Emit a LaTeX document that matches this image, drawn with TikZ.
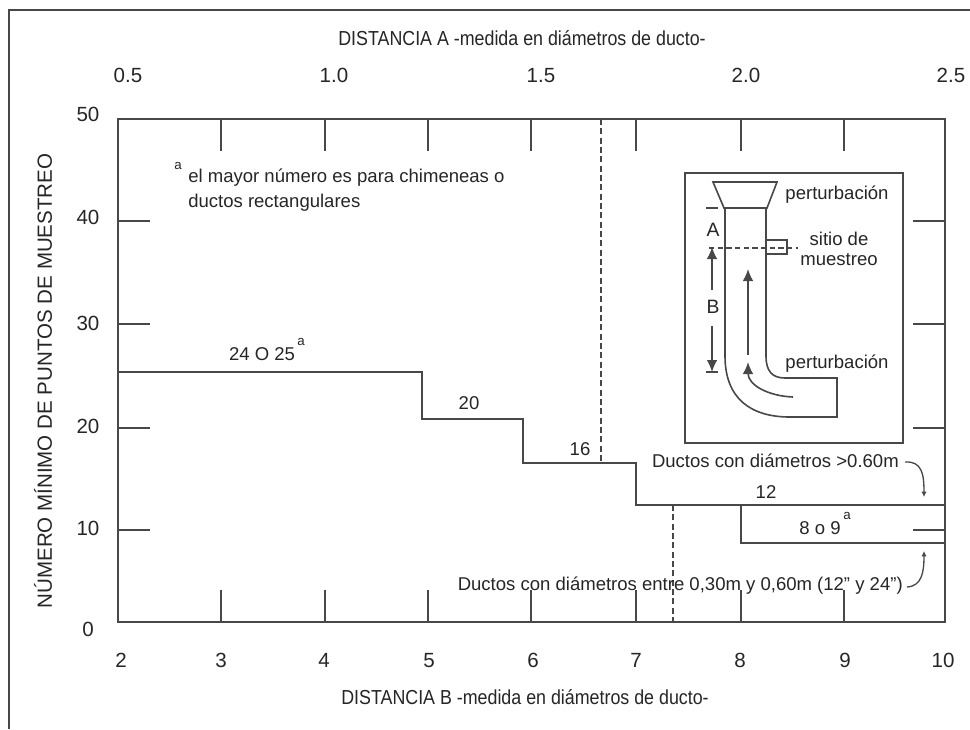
\documentclass[tikz,border=0pt]{standalone}
\usepackage{fontspec}
\setmainfont{Liberation Sans}
\usetikzlibrary{arrows.meta}
\definecolor{ln}{RGB}{72,72,72}
\definecolor{tx}{RGB}{38,38,38}
\begin{document}
\begin{tikzpicture}[x=0.75pt,y=-0.75pt,
  axisln/.style={draw=ln,line width=1.3pt},
  tickln/.style={draw=ln,line width=1.3pt},
  stepln/.style={draw=ln,line width=1.3pt},
  dashln/.style={draw=ln,line width=1.2pt,dash pattern=on 4.5pt off 2.5pt},
  ductln/.style={draw=ln,line width=1.2pt},
  lbl/.style={text=tx,font=\fontsize{13.9}{16}\selectfont,inner sep=0pt},
  numlbl/.style={lbl,text height=0.72em,text depth=0pt},
  ticklbl/.style={text=tx,font=\fontsize{15.4}{18}\selectfont,inner sep=0pt,text height=0.72em,text depth=0pt},
  ylbl/.style={text=tx,font=\fontsize{15.4}{18}\selectfont,inner sep=0pt},
  titlelbl/.style={text=tx,font=\fontsize{15.2}{18}\selectfont,inner sep=0pt},
  suplbl/.style={text=tx,font=\fontsize{10}{12}\selectfont,inner sep=0pt},
  bigarrow/.style={draw=ln,line width=1.2pt,-{Latex[length=9pt,width=8pt]}},
  smallarrow/.style={draw=ln,line width=1pt,-{Latex[length=4pt,width=4pt]}}]
\useasboundingbox (0,0) rectangle (970,729);
\fill[white] (0,0) rectangle (970,729);
% outer frame
\draw[ln,line width=0.9pt] (9,729) -- (9,10) -- (970,10);
% plot box
\draw[axisln] (118,119) rectangle (945,622);
\foreach \xx in {221,325,428,531,636,741,844}{
  \draw[tickln] (\xx,622) -- (\xx,590);
  \draw[tickln] (\xx,119) -- (\xx,151);
}
\foreach \yy in {221,324,428,530}{
  \draw[tickln] (118,\yy) -- (150,\yy);
  \draw[tickln] (945,\yy) -- (913,\yy);
}
% titles
\node[titlelbl] (ttop) at (522,38) {\scalebox{0.88}[1]{DISTANCIA A -medida en diámetros de ducto-}};
\node[titlelbl] (tbot) at (525,697) {\scalebox{0.88}[1]{DISTANCIA B -medida en diámetros de ducto-}};
\node[ylbl,rotate=90] (tleft) at (43,381) {NÚMERO MÍNIMO DE PUNTOS DE MUESTREO};
% top labels
\node[ticklbl] (a05) at (128,78) {0.5};
\node[ticklbl] (a10) at (334,78) {1.0};
\node[ticklbl] (a15) at (541,78) {1.5};
\node[ticklbl] (a20) at (746,78) {2.0};
\node[ticklbl] (a25) at (951,78) {2.5};
% bottom labels
\node[ticklbl] (b2) at (121,663) {2};
\node[ticklbl] (b3) at (221,663) {3};
\node[ticklbl] (b4) at (324,663) {4};
\node[ticklbl] (b5) at (429,663) {5};
\node[ticklbl] (b6) at (533,663) {6};
\node[ticklbl] (b7) at (636,663) {7};
\node[ticklbl] (b8) at (740,663) {8};
\node[ticklbl] (b9) at (845,663) {9};
\node[ticklbl] (b10) at (943,663) {10};
% left labels
\node[ticklbl] (y50) at (88,117) {50};
\node[ticklbl] (y40) at (88,220) {40};
\node[ticklbl] (y30) at (88,326) {30};
\node[ticklbl] (y20) at (88,429) {20};
\node[ticklbl] (y10) at (88,531) {10};
\node[ticklbl] (y0) at (88,632) {0};
% steps
\draw[stepln] (118,372) -- (422,372) -- (422,419) -- (523,419) -- (523,463) -- (636,463) -- (636,505) -- (945,505);
\draw[stepln] (741,505) -- (741,543) -- (945,543);
\draw[dashln] (601,119) -- (601,463);
\draw[dashln] (673,505) -- (673,622);
% step labels
\node[numlbl] (s25) at (262,356) {24 O 25};
\node[suplbl] (s25a) at (301,342) {a};
\node[numlbl] (s20) at (469,405) {20};
\node[numlbl] (s16) at (580,451) {16};
\node[numlbl] (s12) at (766,494) {12};
\node[numlbl] (s8) at (820,530) {8 o 9};
\node[suplbl] (s8a) at (847,516) {a};
% footnote
\node[suplbl] (fna) at (178,166) {a};
\node[lbl,anchor=west,align=left] (fn) at (188,190) {el mayor número es para chimeneas o\\[3pt]ductos rectangulares};
% annotations
\node[lbl,anchor=east] (dg) at (899,461) {Ductos con diámetros >0.60m};
\node[lbl,anchor=east] (dm) at (903,586) {Ductos con diámetros entre 0,30m y 0,60m (12" y 24")};
\coordinate (dgstart) at (905,462);
\coordinate (dgend) at (924,497);
\coordinate (dmstart) at (907,587);
\coordinate (dmend) at (924,551);
\draw[smallarrow] (dgstart) .. controls (922,461) and (924,474) .. (dgend);
\draw[smallarrow] (dmstart) .. controls (922,586) and (924,572) .. (dmend);
% inset
\draw[ductln] (685,173) rectangle (903,443);
\draw[ductln] (713,182) -- (777,182) -- (767,208) -- (724,208) -- cycle;
\draw[ductln] (725,208) -- (725,356) .. controls (725,398) and (750,417) .. (790,417) -- (837,417) -- (837,378) -- (785,378) .. controls (772,378) and (766,371) .. (766,356) -- (766,208);
\draw[ductln] (766,240) -- (787,240) -- (787,254) -- (766,254);
\draw[ln,line width=1.1pt,dash pattern=on 4pt off 2.5pt] (709,248) -- (798,248);
\draw[ductln] (706,208) -- (718,208);
\draw[ductln] (706,372) -- (718,372);
\node[lbl,font=\fontsize{14.5}{16}\selectfont] (la) at (713,230) {A};
\node[lbl,font=\fontsize{14.5}{16}\selectfont] (lb) at (713,307) {B};
\coordinate (bup) at (712,290);
\coordinate (aup) at (712,247);
\coordinate (bdn) at (712,326);
\coordinate (adn) at (712,372);
\draw[bigarrow] (bup) -- (aup);
\draw[bigarrow] (bdn) -- (adn);
\coordinate (f1s) at (748,355);
\coordinate (f1e) at (748,269);
\draw[bigarrow] (f1s) -- (f1e);
\coordinate (f2s) at (793,397);
\coordinate (f2e) at (748,362);
\draw[bigarrow] (f2s) .. controls (768,396) and (748,385) .. (f2e);
\node[lbl] (p1) at (837,195) {perturbación};
\node[lbl,align=center] (ps) at (839,249) {sitio de\\[-1pt]muestreo};
\node[lbl] (p2) at (837,364) {perturbación};
\end{tikzpicture}
\end{document}
